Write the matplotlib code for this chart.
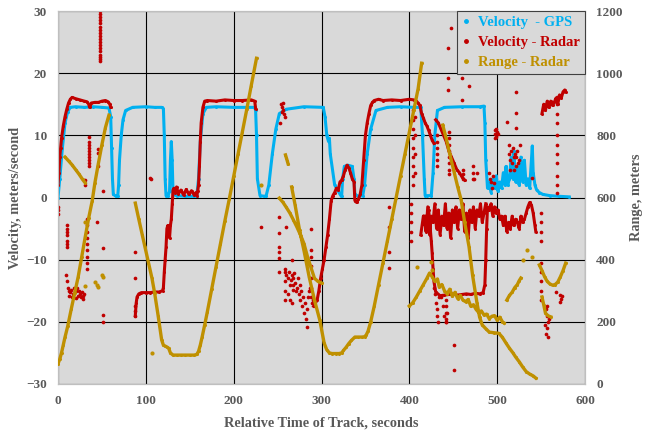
import numpy as np
import matplotlib
matplotlib.use("Agg")
from matplotlib import pyplot as plt
from matplotlib.lines import Line2D

nan = np.nan

# ---- Velocity - GPS (m/s) ----
gps_t = [0, 2, 5, 8, 11, 14, 20, 30, 40, 50, 58, 60, 61, 62, 63, 66, 68, 69, 70, 72, 74, 77, 85, 100, 110, 118,
         120, 121, 122, 123, 125, 127, 128, 129, 130, 131, 135, 145, 155, 158, 160, 162, 165, 169, 180, 200, 215,
         224, 225, 226, 227, 230, 235, 237, 240, 244, 248, 252, 260, 280, 300, 302, 304, 306, 308, 309, 310, 315,
         322, 323, 324, 326, 330, 335, 337, 338, 342, 347, 349, 352, 356, 362, 375, 390, 405, 413, 415, 417, 418,
         420, 425, 427, 429, 432, 440, 460, 480, 485, 486, 487, 489, 491, 493, 495, 497, 499, 501, 503, 505, 507,
         509, 510, 512, 514, 516, 518, 519, 521, 523, 525, 527, 529, 531, 533, 535, 537, 539, 540, 541, 543, 545,
         548, 552, 560, 570, 582]
gps_v = [0, 3, 8, 12, 13.8, 14.5, 14.6, 14.5, 14.6, 14.5, 14.4, 13, 8, 3, 0.5, 0.2, 0.2, 2, 6, 10, 12.5, 14, 14.5,
         14.6, 14.5, 14.5, 14.3, 10, 3, 0.3, 0.2, 1, 6, 9, 6, 0.5, 0.3, 0.2, 0.2, 0.3, 3, 9, 13.5, 14.5, 14.6,
         14.5, 14.5, 14.5, 14, 10, 3, 0.3, 0.2, 0.3, 2, 7, 11, 13.5, 14.2, 14.6, 14.5, 14.5, 13, 10, 9, 9.5, 7, 2,
         0.3, 0.3, 3, 5, 5.2, 5, 3, 0.5, 0.2, 0.3, 2, 7, 11, 14, 14.5, 14.6, 14.5, 14.5, 10, 3, 0.3,
         0.3, 0.3, 4, 10, 14, 14.5, 14.6, 14.6, 14.7, 12, 6, 1.5, 2.5, 0.8, 3, 1.5, 3.5, 1, 2.5, 1.5, 4,
         2, 5, 2, 3, 6.5, 3, 7.5, 2.5, 5, 2, 6.5, 2.5, 6, 2, 3, 1.5, 6, 8.3, 4, 2, 1.2,
         0.8, 0.5, 0.3, 0.2, 0.1]

# ---- Velocity - Radar (m/s): connected tracks, nan separates them ----
radar_t = [0, 1, 2, 3, 4, 6, 8, 10, 12, 14, 16, 20, 25, 30, 33, 35, 36, 38, 42, 46, 50, 54, 57, 59, 60, nan,
           88, 89, 90, 92, 95, 100, 105, 110, 115, 119, 120, 121, 122, 123, 124, 125, 126, 127, 128, 129, 130, 131,
           132, 133, 135, 137, 140, 143, 146, 149, 152, 155, 157, 158, 159, 160, 161, 162, 163, 165, 167, 170, 180,
           190, 200, 210, 220, 224, 225, nan,
           291, 293, 295, 297, 299, 301, 303, 305, 307, 309, 311, 313, 315, 317, 319, 321, 323, 325, 327, 329, 331,
           333, 335, 337, 338, 340, 342, 344, 346, 348, 350, 352, 354, 356, 358, 360, 365, 370, 380, 390, 400, 405,
           408, 410, 412, 414, 416, 418, 420, 422, 424, 426, 428, nan,
           430, 433, 436, 439, 442, 445, 448, 451, 454, 457, 460, 463, nan,
           413, 416, 419, 422, 425, 426, 427, 428, 430, 435, 440, 445, 450, 455, 460, 465, 470, 475, 480, 484, 486,
           487, 488, 489, 491, 493, 495, 497, 499, 501, 503, 505, 507, 509, 511, 513, 515, 517, 519, 521, 523, 525,
           527, 529, 531, 533, 535, 537, 539, 541, 543, 544, nan,
           417, 419, 421, 423, 425, 427, 429, 431, 433, 435, 437, 439, 441, 443, 445, 447, 449, 451, 453, 455, 457,
           459, 461, 463, 465, 467, 469, 471, 473, 475, 477, 479, 481, 483, 485, 487, nan,
           551, 553, 555, 557, 559, 561, 563, 565, 567, 569, 571, 573, 575, 577, 578]
radar_v = [2, 4, 6.5, 8, 9.5, 11.5, 13, 14.2, 15.2, 15.8, 16.1, 15.9, 15.7, 15.5, 15.4, 15, 14.5, 15.2, 15.3, 15.3,
           15.5, 15.6, 15.4, 15, 14.5, nan,
           -19, -17, -16, -15.5, -15.3, -15.3, -15.3, -15.2, -15.2, -15, -14.5, -12, -10, -8, -5, -4.5, -5.5, -6.5,
           -4.5, -3.5, -1, 1.2, 1.5, 0.8, 1.7, 0.6, 1.2, 0.4, 1.3, 0.5, 1.1, 0.4, 0.8, 0.3, 1, 2, 5, 9, 12, 14.5,
           15.5, 15.6, 15.5, 15.7, 15.6, 15.6, 15.7, 15.5, 14.3, nan,
           -17.5, -17, -16.5, -15, -13, -11.5, -10, -8, -6, -3.5, -0.5, 0.3, 0.8, 1.5, 1.2, 2.5, 2.8, 3.5, 4.5, 5.2,
           4.8, 4, 3, 2.5, -0.5, -0.8, -0.3, 0.5, 2, 6, 10, 12, 13.5, 14.8, 15.3, 15.6, 15.8, 15.6, 15.7, 15.6, 15.8,
           15.7, 15.5, 15.2, 14.8, 13.5, 12.8, 12, 11.5, 10.8, 10, 9.2, 8.7, nan,
           12.5, 12, 11, 10, 9, 7.5, 6.5, 5.5, 4.5, 4, 3.3, 2.8, nan,
           -6, -3, -5, -2, -7, -9, -11.5, -13.5, -15.2, -15.8, -15.7, -15.6, -15.5, -15.7, -15.6, -15.5, -15.6,
           -15.4, -15.5, -15.3, -14, -10, -5, -1.5, -2, -1, -3, -1.5, -2.5, -2, -3.5, -3, -4.5, -3, -5.5, -4, -5, -3,
           -4.5, -3.5, -4, -5, -3, -4, -3.5, -2.5, -1.5, -0.8, -1.2, -2.5, -4.5, -5.5, nan,
           -3, -5.5, -1.5, -6, -3, -4, -1, -5, -2, -6, -3, -4.5, -1, -5, -2.5, -6.5, -2, -4, -1.5, -5, -2, -3.5,
           -1, -5.5, -2.5, -6.5, -2, -4, -1.5, -5, -2, -3, -1, -4, -2.5, -1, nan,
           13.5, 15, 14, 15.5, 14.5, 15.5, 14.8, 15.3, 16, 15, 16.5, 16, 17, 17.3, 17]

# ---- Velocity - Radar: scattered returns ----
radar_pts_t = ([48] * 18 + [35] * 10 + [45, 45, 45, 31, 31, 106, 51, 0, 0, 0] + [10] * 7 +
               [9, 10, 11, 12, 13, 14, 15, 16, 17, 18, 19, 20, 21, 22, 23, 24, 25, 26, 27, 28, 29, 30] +
               [33] * 9 + [44, 51, 51, 51, 88, 88, 88, 88, 88, 105] +
               [231, 252, 252, 252, 252, 252, 252, 259, 260, 266, 288, 288, 288, 288, 288, 288] +
               [258, 258, 258, 258, 260, 262, 263, 264, 265, 266, 267, 268, 269, 270, 271, 272, 273, 274, 275, 276,
                277, 278, 279, 280, 281, 282, 283, 284, 285, 286, 287, 288, 289, 290, 262, 264, 266, 268] +
               [254, 255, 256, 257, 258, 256, 255, 253] +
               [404] * 9 + [406] * 4 + [432] * 6 + [445] * 8 + [461] * 3 + [472] * 3 +
               [447, 444, 444, 444, 460, 468, 460, 521, 521, 511, 521] +
               [497, 498, 499, 500, 499, 501, 497] +
               [513, 514, 515, 516, 517, 518, 519, 520, 521, 522, 523, 524, 525, 526, 515, 519] +
               [491, 492, 493, 495, 496, 494, 540, 477, 474] +
               [377] * 4 + [402] * 5 + [428, 429, 430, 431, 432, 433, 434, 436, 438, 440, 442, 443] +
               [442] * 5 + [451, 451] +
               [550] * 9 + [556, 557, 558, 557, 556, 559, 558, 555, 557] + [571, 573, 572, 574, 567] +
               [568] * 11)
radar_pts_v = ([22, 22.3, 22.6, 23, 23.5, 24, 24.5, 25, 25.5, 26, 26.5, 27, 27.5, 28, 28.5, 29, 29.5, 30] +
               [5, 5.5, 6, 6.5, 7, 7.5, 8, 8.5, 9, 9.8] + [5, 7.2, 7.8, 2.8, 2.0, 3, 1, -1.5, -2, -2.7] +
               [-4.5, -5, -5.5, -6, -7, -7.5, -8] +
               [-12.5, -13.5, -14.5, -15, -15.8, -15.2, -14.8, -16, -15.5, -14.5, -15, -16.2, -15, -14.5, -15.8,
                -15, -15.5, -16, -15.2, -15.8, -16.3, -15.5] +
               [-3.5, -4.5, -5.5, -6.5, -7.5, -8.5, -9.5, -10.5, -11.5] +
               [-4, -8.1, -18.9, -20, -8.8, -13, -17.5, -18.3, -19, 3.1] +
               [-4.7, -3.1, -5.7, -8, -8.8, -9.7, -12, -11.5, -4.8, -10, -5, -8.5, -9.5, -11, -13, -14.5] +
               [-12, -13.5, -15, -16.5, -12.5, -13, -12, -14, -13.2, -12.5, -14, -13, -12.2, -13.8, -15, -14.5, -13,
                -15.5, -14, -16.5, -15, -17.5, -16, -18.5, -17, -19.5, -20.8, -18, -16, -15, -14.5, -16, -17, -16.5,
                -15.5, -16.5, -17, -14.8] +
               [15, 14.5, 14, 13.5, 13, 15.2, 13.8, 12] +
               [14, 12.5, 11, 9.5, 8, 6.5, 5, 3.5, 2] + [13, 10, 7, 4] + [10, 9, 8, 7, 6, 5] +
               [10.5, 9.5, 8.5, 7.5, 6.5, 5.5, 4.5, 3.8] + [3, 3.8, 4.5] + [3, 4, 5] +
               [27.3, 24, 19.2, 17.3, 19.2, 18, 15.7, 17, 13.6, 12.1, 11.2] +
               [10.2, 10.8, 11, 10.5, 9.8, 10.2, 9.5] +
               [7, 8.5, 6, 7.5, 5.5, 8, 6.5, 7, 5, 6.5, 7.5, 5.5, 6, 8.5, 4.5, 4.4] +
               [4, 3, 2.5, 3.5, 2.3, 1.5, 3.1, 3.9, 2.9] +
               [-1.5, -4.7, -8.8, -11.4] + [-1, -2.5, -4, -5.5, -7] +
               [-14.5, -15.5, -17, -18, -19, -20, -16, -16, -17.5, -19, -20, -18.5] +
               [-16.5, -17.5, -18.5, -19.5, -20] + [-23.7, -27.8] +
               [-2.5, -4, -5.5, -7, -10.5, -12, -13.5, -15, -16.5] +
               [-18, -19, -20, -21, -22, -19.5, -22.5, -20.5, -17.5] + [-15.7, -16.3, -16.8, -15.9, -15.2] +
               [16.2, 15, 13.5, 12, 10, 8.5, 7, 5.5, 3.5, 2, 0.7])

# ---- Range - Radar (m): connected tracks ----
range_t = [0, 2, 4, 6, 8, 11, 15, 19, 23, 27, 31, 35, 39, 42, 46, 50, 54, 57, 58, nan,
           8, 12, 16, 20, 24, 28, 31, nan,
           88, 92, 96, 99, 103, 107, 110, 114, 118, 120, 122, 124, 126, 128, 131, 135, 140, 145, 150, 155, 158, 160,
           162, 164, 167, 170, 175, 180, 185, 190, 195, 200, 205, 210, 215, 220, 226, nan,
           259, 260, 261, 262, nan,
           252, 256, 260, 264, 268, 272, 276, 280, 284, 288, 292, 296, 300, nan,
           266, 270, 275, 280, 286, 292, 298, 303, 306, 309, 312, 316, 320, 323, 325, 328, 331, 334, 338, 342, 346,
           349, 351, 353, 356, 360, 365, 370, 375, 380, 385, 390, 395, 400, 405, 410, 414, nan,
           438, 442, 446, 451, 455, 459, 463, 468, 472, 477, 480, 483, 487, 491, 496, 502, 506, 510, 514, 518, 521,
           525, 529, 533, 537, 541, 544, nan,
           400, 404, 408, 412, 416, 420, 423, 426, 429, 432, 434, 437, 440, 443, 446, 449, 452, 455, 458, 461, 464,
           467, 470, 473, 476, 479, 482, 485, 488, 491, 494, 497, 500, 503, 506, 508, nan,
           511, 514, 517, 520, 523, 525, 527, nan,
           548, 551, 554, 557, 560, 563, 566, 569, 572, 575, 578, nan,
           551, 553, 555, 557, 559, 561]
range_r = [65, 80, 100, 125, 151, 185, 240, 293, 345, 410, 473, 535, 590, 647, 710, 770, 825, 856, 865, nan,
           730, 718, 705, 690, 675, 658, 647, nan,
           582, 530, 480, 441, 390, 340, 293, 220, 142, 125, 122, 119, 115, 100, 93, 93, 93, 93, 93, 93, 95, 105,
           125, 150, 190, 232, 305, 378, 450, 525, 595, 668, 740, 812, 885, 960, 1048, nan,
           737, 728, 718, 708, nan,
           598, 585, 568, 550, 528, 505, 480, 452, 410, 375, 340, 330, 325, nan,
           634, 575, 495, 430, 344, 270, 206, 132, 110, 100, 98, 98, 98, 100, 108, 118, 130, 140, 151, 151, 151,
           152, 158, 170, 200, 250, 320, 390, 460, 530, 600, 670, 740, 810, 880, 950, 1032, nan,
           833, 790, 740, 682, 635, 592, 520, 441, 350, 261, 215, 190, 178, 167, 165, 163, 150, 132, 115, 100, 87,
           72, 55, 40, 32, 26, 19, nan,
           251, 262, 280, 300, 320, 340, 357, 345, 330, 338, 312, 320, 300, 290, 305, 282, 295, 275, 285, 270, 265,
           272, 250, 255, 240, 230, 235, 222, 225, 210, 218, 220, 205, 215, 200, 196, nan,
           270, 285, 295, 310, 320, 332, 341, nan,
           383, 365, 345, 330, 322, 318, 320, 328, 345, 365, 389, nan,
           280, 255, 228, 222, 218, 216]

range_pts_t = [107, 31, 31, 42, 44, 45, 50, 51, 231, 409, 426, 425, 529, 534, 540]
range_pts_r = [100, 521, 315, 328, 320, 312, 350, 344, 640, 377, 367, 392, 399, 431, 409]

BLUE = "#00b0f0"
RED = "#c00000"
GOLD = "#bf9000"
TXT = "#595959"

plt.rcParams["font.family"] = ["Liberation Serif", "DejaVu Serif"]
plt.rcParams["font.weight"] = "bold"

fig = plt.figure(figsize=(6.49, 4.37), dpi=100)
ax1 = fig.add_axes([58 / 649, 53 / 437, 527 / 649, 373 / 437])
ax1.set_facecolor("#d9d9d9")
ax2 = ax1.twinx()

ax1.plot(gps_t, gps_v, color=BLUE, lw=2.2, marker="o", ms=2.2, mew=0, zorder=2)
ax1.plot(radar_t, radar_v, color=RED, lw=2.2, marker="o", ms=2.2, mew=0, zorder=3)
ax1.scatter(radar_pts_t, radar_pts_v, color=RED, s=7, lw=0, zorder=3)
ax2.plot(range_t, range_r, color=GOLD, lw=2.4, marker="o", ms=2.2, mew=0, zorder=4)
ax2.scatter(range_pts_t, range_pts_r, color=GOLD, s=9, lw=0, zorder=4)

ax1.set_xlim(0, 600)
ax1.set_ylim(-30, 30)
ax2.set_ylim(0, 1200)
ax1.set_xticks(range(0, 601, 100))
ax1.set_yticks(range(-30, 31, 10))
ax2.set_yticks(range(0, 1201, 200))
ax1.grid(True, color="black", lw=0.8)
ax1.set_axisbelow(True)
for ax in (ax1, ax2):
    ax.tick_params(length=0, labelsize=9.5, labelcolor=TXT)
    for s in ax.spines.values():
        s.set_color("#bfbfbf")
        s.set_linewidth(0.8)
ax1.tick_params(axis="y", pad=8)
ax1.tick_params(axis="x", pad=8)
ax2.tick_params(axis="y", pad=8)

ax1.set_xlabel("Relative Time of Track, seconds", fontsize=10.3, color=TXT, fontweight="bold", labelpad=7)
ax1.set_ylabel("Velocity, meters/second", fontsize=10.3, color=TXT, fontweight="bold", labelpad=3)
ax2.set_ylabel("Range, meters", fontsize=10.3, color=TXT, fontweight="bold", labelpad=5)

handles = [Line2D([], [], ls="", marker="o", ms=2.5, color=c) for c in (BLUE, RED, GOLD)]
leg = ax2.legend(handles, ["Velocity  - GPS", "Velocity - Radar", "Range - Radar"], loc="upper right",
                 fontsize=10.5, labelcolor=[BLUE, RED, GOLD], frameon=True, fancybox=False,
                 borderaxespad=0, handlelength=0.6, handletextpad=0.5, borderpad=0.35, labelspacing=0.45)
leg.get_frame().set_facecolor("#d9d9d9")
leg.get_frame().set_edgecolor("#404040")
leg.get_frame().set_alpha(1)
leg.get_frame().set_linewidth(0.8)

fig.savefig("out.png", dpi=100)
